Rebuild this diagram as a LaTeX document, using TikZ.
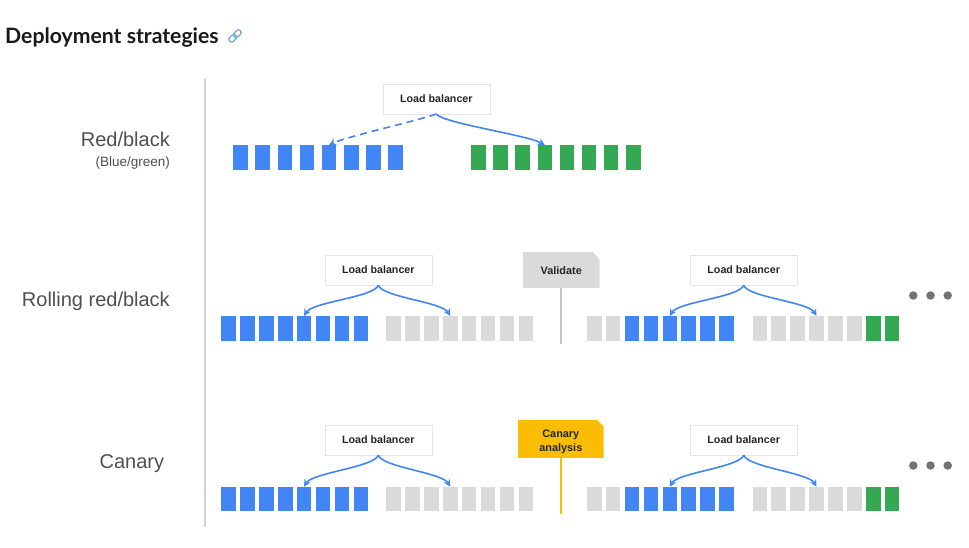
\documentclass[tikz,border=0pt]{standalone}
\usepackage{fontspec}
\setmainfont{Liberation Sans}
\newfontfamily\titlefont{Lato}
\usetikzlibrary{positioning, arrows.meta, shadows}
\definecolor{gblue}{HTML}{4285F4}
\definecolor{ggreen}{HTML}{34A853}
\definecolor{ggray}{HTML}{DADADA}
\definecolor{gyellow}{HTML}{FBBC04}
\definecolor{labelgray}{HTML}{4F4F4F}
\definecolor{linkblue}{HTML}{74A9E0}

\begin{document}
\begin{tikzpicture}[x=1pt, y=-1pt,
        bar/.style={minimum width=14.6pt, minimum height=24.5pt, inner sep=0pt, anchor=north west},
        lb/.style={fill=white, draw=black!10, minimum width=107pt, minimum height=30pt, inner sep=0pt,
            font=\bfseries\fontsize{10.7}{12}\selectfont, text=black!85,
            drop shadow={shadow xshift=0.8pt, shadow yshift=-1.2pt, fill=black, opacity=0.22}},
        flow/.style={gblue, line width=1.6pt, -{Stealth[length=7pt, width=7pt]}},
        row label/.style={anchor=east, inner sep=0pt, text=labelgray, font=\fontsize{20}{24}\selectfont},
        flag box/.style={inner sep=0pt},
        flag/.style={inner sep=0pt, align=center, text=black!85,
            font=\bfseries\fontsize{10.9}{13.4}\selectfont},
        dot/.style={circle, fill=black!55, inner sep=0pt, minimum size=8.5pt}
    ]
    \useasboundingbox (0,0) rectangle (969,547);

    % Heading and link icon
    \node[anchor=base west, inner sep=0pt, text=black!90, font=\titlefont\bfseries\fontsize{21.2}{24}\selectfont]
        (title) at (5,43) {Deployment strategies};
    \begin{scope}[shift={(235,36)}, rotate=45, linkblue, line width=1.3pt]
        \draw[rounded corners=2.4pt] (-7.5,-2.6) rectangle (1,2.6);
        \draw[rounded corners=2.4pt] (-1,-2.6) rectangle (7.5,2.6);
    \end{scope}

    % Divider between labels and diagrams
    \coordinate (divtop) at (204.5,79);
    \coordinate (divbot) at (204.5,527);
    \draw[black!18, line width=2pt] (divtop) -- (divbot);

    % Row labels
    \node[row label] (lred) at (170,139.3) {Red/black};
    \node[row label, font=\fontsize{13.5}{16}\selectfont] (lblue) at (170,163.3) {(Blue/green)};
    \node[row label] (lroll) at (170,301.7) {Rolling red/black};
    \node[row label] (lcan) at (164.3,463.3) {Canary};

    % Red/black: two full sets of instances
    \foreach \i in {0,...,7} {
        \node[bar, fill=gblue] (rbb\i) at (233+\i*22.15, 145) {};
        \node[bar, fill=ggreen] (rbg\i) at (471+\i*22.1, 145) {};
    }
    \node[lb] (rblb) at (436.3,98.8) {Load balancer};
    \draw[flow, dash pattern=on 7pt off 5pt] (rblb.south) .. controls +(-16,6) and +(16,-8) .. (rbb4.north);
    \draw[flow] (rblb.south) .. controls +(6,9) and +(-18,-10) .. (rbg3.north);

    % Rolling red/black and canary share the same layout
    \foreach \row/\y/\ly in {ro/316/270, ca/486.7/440} {
        \foreach \i in {0,...,7} {
            \node[bar, fill=gblue] (\row a\i) at (221+\i*18.9, \y) {};
            \node[bar, fill=ggray] (\row b\i) at (386+\i*18.9, \y) {};
        }
        \foreach \col [count=\i from 0] in {ggray,ggray,gblue,gblue,gblue,gblue,gblue,gblue}
            \node[bar, fill=\col] (\row c\i) at (586.7+\i*18.9, \y) {};
        \foreach \col [count=\i from 0] in {ggray,ggray,ggray,ggray,ggray,ggray,ggreen,ggreen}
            \node[bar, fill=\col] (\row d\i) at (752.3+\i*18.9, \y) {};

        \node[lb] (\row lbl) at (378.3,\ly) {Load balancer};
        \node[lb] (\row lbr) at (743.7,\ly) {Load balancer};
        \draw[flow] (\row lbl.south) .. controls +(-4,12) and +(8,-14) .. (\row a4.north);
        \draw[flow] (\row lbl.south) .. controls +(4,12) and +(-8,-14) .. (\row b3.north);
        \draw[flow] (\row lbr.south) .. controls +(-4,12) and +(8,-14) .. (\row c4.north);
        \draw[flow] (\row lbr.south) .. controls +(4,12) and +(-8,-14) .. (\row d3.north);

        % more steps follow
        \foreach \k in {0,1,2}
            \node[dot] (\row dot\k) at (913.3+\k*17.2, \ly+25.5) {};
    }

    % Validate flag
    \node[flag box, minimum width=76pt, minimum height=35.4pt] (val) at (561.3,270) {};
    \fill[ggray] (val.south west) |- ([xshift=-6.5pt]val.north east)
        -- ([yshift=-7.5pt]val.north east) |- cycle;
    \node[flag] (valtxt) at ([yshift=-1pt]val.center) {Validate};
    \coordinate (valend) at (561.3,344);
    \draw[black!22, line width=2pt] (val.south) -- (valend);

    % Canary analysis flag
    \node[flag box, minimum width=85pt, minimum height=37.7pt] (can) at (560.8,438.8) {};
    \fill[gyellow] (can.south west) |- ([xshift=-6.5pt]can.north east)
        -- ([yshift=-6.7pt]can.north east) |- cycle;
    \node[flag] (cantxt) at ([yshift=-3pt]can.center) {Canary\\analysis};
    \coordinate (canend) at (560.8,514.3);
    \draw[gyellow, line width=2pt] (can.south) -- (canend);

\end{tikzpicture}
\end{document}
